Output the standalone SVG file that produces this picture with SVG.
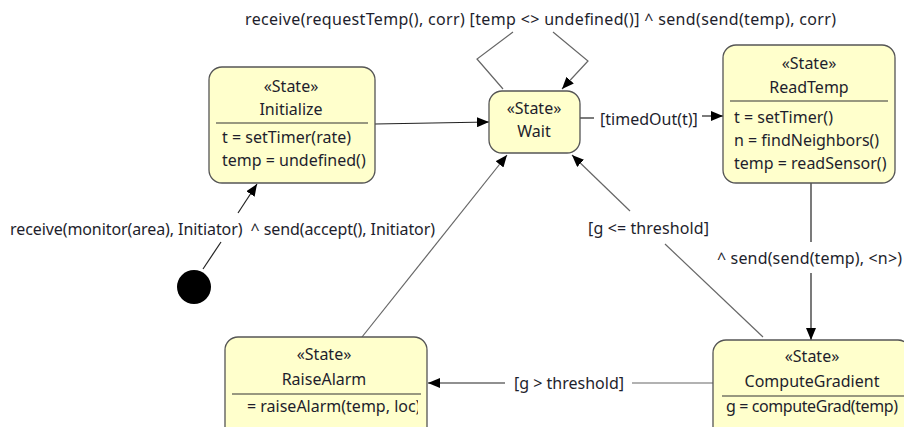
<svg xmlns="http://www.w3.org/2000/svg" width="904" height="427" viewBox="0 0 904 427">
  <style>
    .box { fill: #ffffcc; stroke: #555555; stroke-width: 1.3; }
    .sep { stroke: #333333; stroke-width: 1.2; }
    .t { font-family: "Noto Sans", "DejaVu Sans", sans-serif; font-size: 16px; fill: #1e1e2c; }
    .c { text-anchor: middle; }
    .edge { fill: none; stroke: #666666; stroke-width: 1.2; }
    .edge.dark { stroke: #222222; }
    .lbl { font-family: "Noto Sans", "DejaVu Sans", sans-serif; font-size: 16px; fill: #1e1e2c; white-space: pre; }
  </style>
  <defs>
    <marker id="arrow" viewBox="0 0 12 10" refX="12" refY="5" markerWidth="12" markerHeight="10" markerUnits="userSpaceOnUse" orient="auto">
      <path d="M0,0 L12,5 L0,10 Z" fill="#000000"/>
    </marker>
    <clipPath id="clipRaise">
      <rect x="226" y="337" width="192" height="90"/>
    </clipPath>
  </defs>
  <rect width="904" height="427" fill="#ffffff"/>

  <!-- transitions -->
  <g id="connectors">
    <!-- initial -> Initialize -->
    <line class="edge dark" x1="203" y1="269" x2="221" y2="242"/>
    <line class="edge dark" x1="238" y1="213" x2="257" y2="184" marker-end="url(#arrow)"/>
    <text class="lbl" x="10" y="235" textLength="425" xml:space="preserve">receive(monitor(area), Initiator)  ^ send(accept(), Initiator)</text>

    <!-- Initialize -> Wait -->
    <line class="edge dark" x1="375" y1="124" x2="489" y2="122" marker-end="url(#arrow)"/>

    <!-- Wait self loop -->
    <polyline class="edge" points="503,89 477,59 513,32"/>
    <polyline class="edge" points="553,32 588,61 562,89" marker-end="url(#arrow)"/>
    <text class="lbl" x="245" y="25" textLength="591">receive(requestTemp(), corr) [temp &lt;&gt; undefined()] ^ send(send(temp), corr)</text>

    <!-- Wait -> ReadTemp -->
    <line class="edge dark" x1="580" y1="118" x2="594" y2="118"/>
    <text class="lbl" x="600" y="125">[timedOut(t)]</text>
    <line class="edge dark" x1="702" y1="116" x2="723" y2="116" marker-end="url(#arrow)"/>

    <!-- ReadTemp -> ComputeGradient -->
    <line class="edge dark" x1="811" y1="183" x2="811" y2="242"/>
    <text class="lbl" x="717" y="264" textLength="185">^ send(send(temp), &lt;n&gt;)</text>
    <line class="edge dark" x1="811" y1="273" x2="811" y2="340" marker-end="url(#arrow)"/>

    <!-- ComputeGradient -> Wait -->
    <line class="edge" x1="763" y1="337" x2="665" y2="244"/>
    <text class="lbl" x="588" y="234" textLength="121">[g &lt;= threshold]</text>
    <line class="edge" x1="630" y1="211" x2="572" y2="155" marker-end="url(#arrow)"/>

    <!-- ComputeGradient -> RaiseAlarm -->
    <line class="edge" x1="713" y1="383" x2="632" y2="383"/>
    <text class="lbl" x="514" y="389">[g &gt; threshold]</text>
    <line class="edge dark" x1="505" y1="383" x2="428" y2="383" marker-end="url(#arrow)"/>

    <!-- RaiseAlarm -> Wait -->
    <line class="edge" x1="362" y1="337" x2="507" y2="155" marker-end="url(#arrow)"/>
  </g>

  <!-- initial pseudo-state -->
  <g id="initial">
    <circle cx="194" cy="287" r="17" fill="#000000"/>
  </g>

  <g id="Initialize">
    <rect class="box" x="209" y="67" width="166" height="116" rx="13" ry="13"/>
    <line class="sep" x1="216" y1="123" x2="368" y2="123"/>
    <text class="t c" x="291" y="92">«State»</text>
    <text class="t c" x="291" y="115">Initialize</text>
    <text class="t" x="222" y="143">t = setTimer(rate)</text>
    <text class="t" x="222" y="166">temp = undefined()</text>
  </g>

  <g id="Wait">
    <rect class="box" x="489" y="91" width="91" height="62" rx="13" ry="13"/>
    <text class="t c" x="534" y="114">«State»</text>
    <text class="t c" x="534" y="137">Wait</text>
  </g>

  <g id="ReadTemp">
    <rect class="box" x="723" y="45" width="172" height="138" rx="13" ry="13"/>
    <line class="sep" x1="730" y1="101" x2="888" y2="101"/>
    <text class="t c" x="809" y="69">«State»</text>
    <text class="t c" x="809" y="93">ReadTemp</text>
    <text class="t" x="734" y="123">t = setTimer()</text>
    <text class="t" x="734" y="146">n = findNeighbors()</text>
    <text class="t" x="734" y="169">temp = readSensor()</text>
  </g>

  <g id="RaiseAlarm">
    <rect class="box" x="225" y="337" width="202" height="110" rx="13" ry="13"/>
    <line class="sep" x1="232" y1="394" x2="421" y2="394"/>
    <text class="t c" x="324" y="360">«State»</text>
    <text class="t c" x="324" y="385">RaiseAlarm</text>
    <text class="t" x="247" y="412" clip-path="url(#clipRaise)">= raiseAlarm(temp, loc)</text>
  </g>

  <g id="ComputeGradient">
    <rect class="box" x="713" y="340" width="198" height="110" rx="13" ry="13"/>
    <line class="sep" x1="722" y1="396" x2="904" y2="396"/>
    <text class="t c" x="812" y="362">«State»</text>
    <text class="t c" x="812" y="387">ComputeGradient</text>
    <text class="t" x="726" y="412" textLength="172">g = computeGrad(temp)</text>
  </g>
</svg>
